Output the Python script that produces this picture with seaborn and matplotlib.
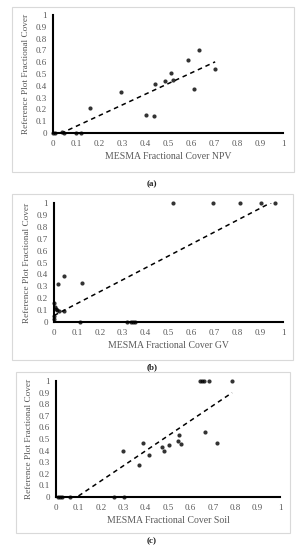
import matplotlib
matplotlib.use("Agg")
import matplotlib.pyplot as plt
import seaborn as sns
from matplotlib.patches import Rectangle

# values
npv_x = [0, 0.01, 0.039, 0.048, 0.102, 0.123, 0.162, 0.295, 0.406, 0.438,
         0.442, 0.487, 0.511, 0.52, 0.589, 0.613, 0.634, 0.705]
npv_y = [0, 0, 0.005, 0, 0, 0, 0.21, 0.351, 0.154, 0.145,
         0.419, 0.437, 0.506, 0.447, 0.618, 0.375, 0.706, 0.546]

gv_x = [0, 0, 0, 0.004, 0.008, 0.012, 0.02, 0.019, 0.042, 0.042, 0.124,
        0.115, 0.319, 0.338, 0.345, 0.352, 0.52, 0.696, 0.814, 0.904, 0.967]
gv_y = [0.16, 0.05, 0.025, 0.125, 0.11, 0.10, 0.09, 0.322, 0.389, 0.09, 0.328,
        0, 0, 0, 0, 0, 1, 1, 1, 1, 1]

soil_x = [0.007, 0.016, 0.028, 0.063, 0.259, 0.302, 0.297, 0.369, 0.389, 0.414,
          0.473, 0.481, 0.505, 0.543, 0.549, 0.557, 0.643, 0.653, 0.662, 0.683,
          0.667, 0.719, 0.786]
soil_y = [0, 0, 0, 0, 0, 0, 0.40, 0.276, 0.465, 0.359,
          0.428, 0.397, 0.451, 0.483, 0.532, 0.46, 1, 1, 1, 1,
          0.558, 0.463, 1]

ticks = [0, 0.1, 0.2, 0.3, 0.4, 0.5, 0.6, 0.7, 0.8, 0.9, 1]
tick_labels = ["0", "0.1", "0.2", "0.3", "0.4", "0.5", "0.6", "0.7", "0.8", "0.9", "1"]

panels = [
    (npv_x, npv_y, "MESMA Fractional Cover NPV", "(a)"),
    (gv_x, gv_y, "MESMA Fractional Cover GV", "(b)"),
    (soil_x, soil_y, "MESMA Fractional Cover Soil", "(c)"),
]

sns.set_style("white")
plt.rcParams["font.family"] = ["Liberation Serif", "DejaVu Serif"]

W, H = 305, 550
fig = plt.figure(figsize=(W / 100, H / 100), dpi=100)

# pixel boxes: axes (x0, y0, x1, y1), frame (x0, y0, x1, y1), caption y
axes_px = [(53, 15, 283, 133), (54, 203, 283, 322), (56, 381, 280, 497)]
frame_px = [(12, 7, 294, 171.5), (12, 194, 293, 360), (16, 372, 290, 533)]
caption_y = [184, 367.5, 541]

gray = "#595959"

for (x, y, xlabel, cap), a, f, cy in zip(panels, axes_px, frame_px, caption_y):
    ax = fig.add_axes([a[0] / W, 1 - a[3] / H, (a[2] - a[0]) / W, (a[3] - a[1]) / H])
    sns.regplot(x=x, y=y, ax=ax, ci=None, color="black",
                scatter_kws={"s": 9, "clip_on": False, "zorder": 3, "linewidths": 0},
                line_kws={"ls": (0, (3, 2.5)), "lw": 1.1})
    ax.set_xlim(0, 1)
    ax.set_ylim(0, 1)
    ax.set_xticks(ticks)
    ax.set_xticklabels(tick_labels)
    ax.set_yticks(ticks)
    ax.set_yticklabels(tick_labels)
    ax.tick_params(length=0, labelsize=6.5, labelcolor=gray)
    ax.tick_params(axis="x", pad=5)
    ax.tick_params(axis="y", pad=4.5)
    for side in ["top", "right"]:
        ax.spines[side].set_visible(False)
    for side in ["left", "bottom"]:
        ax.spines[side].set_color("black")
        ax.spines[side].set_linewidth(1.5)
    ax.set_xlabel(xlabel, fontsize=7, color=gray, labelpad=3)
    ax.set_ylabel("Reference Plot Fractional Cover", fontsize=6.7, color=gray, labelpad=4)
    ax.patch.set_alpha(0)

    fig.patches.append(Rectangle((f[0] / W, 1 - f[3] / H), (f[2] - f[0]) / W, (f[3] - f[1]) / H,
                                 transform=fig.transFigure, fill=False,
                                 edgecolor="#d9d9d9", lw=0.8))
    fig.text(152 / W, 1 - cy / H, cap, ha="center", va="center", fontsize=6.5,
             fontweight="bold", color="#222222")

fig.savefig("out.png", dpi=100)
